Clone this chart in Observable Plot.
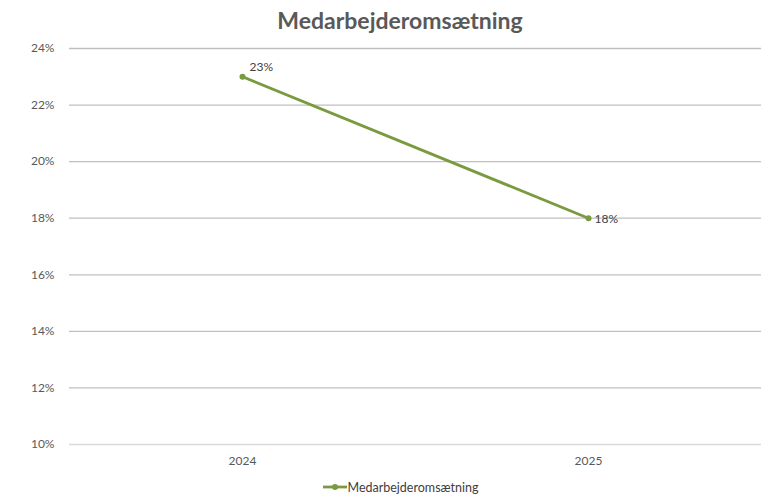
<!DOCTYPE html>
<html>
<head>
<meta charset="utf-8">
<script src="https://cdn.jsdelivr.net/npm/d3@7"></script>
<script src="https://cdn.jsdelivr.net/npm/@observablehq/plot@0.6"></script>
<style>
  body { margin: 0; background: #fff; font-family: Lato, "Open Sans", sans-serif; }
  #title { height: 35px; line-height: 40px; text-align: center; font-size: 23px; font-weight: bold; color: #595959; padding-left: 30px; }
  #legend { height: 18px; display: flex; justify-content: center; align-items: center; font-size: 12.5px; color: #404040; padding-left: 30px; }
  svg { display: block; }
</style>
</head>
<body>
<div id="title">Medarbejderomsætning</div>
<div id="chart"></div>
<div id="legend"></div>
<script>
const seriesName = "Medarbejderomsætning";
const years = ["2024", "2025"];
const values = [0.23, 0.18];
const yTicks = [0.10, 0.12, 0.14, 0.16, 0.18, 0.20, 0.22, 0.24];
const lineColor = "#7a9a3f";

const data = years.map((y, i) => ({year: y, value: values[i]}));

const plot = Plot.plot({
  width: 770,
  height: 443,
  marginTop: 13,
  marginBottom: 34,
  marginLeft: 69,
  marginRight: 9,
  style: {fontFamily: "Lato, 'Open Sans', sans-serif", fontSize: "12px", color: "#595959"},
  x: {type: "point", domain: years, padding: 0.5, label: null, tickSize: 0, tickPadding: 12},
  y: {domain: [0.10, 0.24], ticks: yTicks, tickFormat: d => Math.round(d * 100) + "%", label: null, tickSize: 0, tickPadding: 15},
  marks: [
    Plot.ruleY(yTicks.filter(t => t > 0.10), {stroke: "#bfbfbf", strokeWidth: 1.3, strokeOpacity: 1}),
    Plot.ruleY([0.10], {stroke: "#d9d9d9", strokeWidth: 1.3}),
    Plot.line(data, {x: "year", y: "value", stroke: lineColor, strokeWidth: 2.8}),
    Plot.dot(data, {x: "year", y: "value", fill: lineColor, r: 3}),
    Plot.text(data.slice(0, 1), {x: "year", y: "value", text: d => Math.round(d.value * 100) + "%", dx: 7, dy: -10, textAnchor: "start", fill: "#404040", fontSize: 12}),
    Plot.text(data.slice(1), {x: "year", y: "value", text: d => Math.round(d.value * 100) + "%", dx: 6, dy: 1, textAnchor: "start", fill: "#404040", fontSize: 12})
  ]
});
document.getElementById("chart").appendChild(plot);

const leg = document.getElementById("legend");
leg.innerHTML = `<svg width="26" height="10"><line x1="1" y1="5" x2="25" y2="5" stroke="${lineColor}" stroke-width="2.8"/><circle cx="13" cy="5" r="3" fill="${lineColor}"/></svg><span>${seriesName}</span>`;
</script>
</body>
</html>
